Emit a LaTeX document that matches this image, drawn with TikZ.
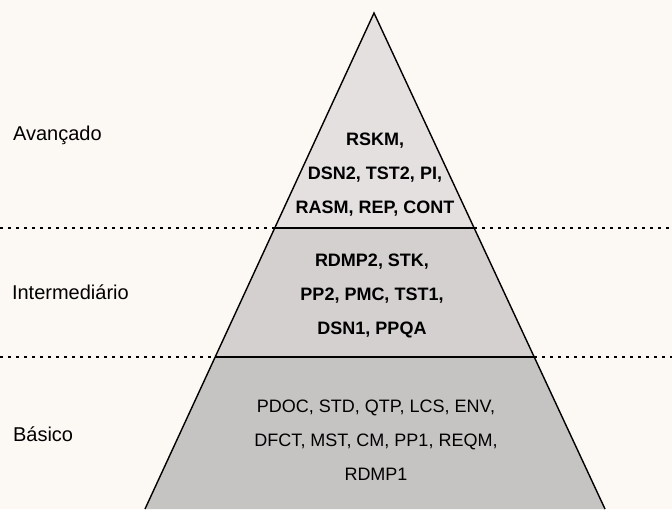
\documentclass[tikz,border=0pt]{standalone}
\usepackage{fontspec}
\setmainfont{Liberation Sans}
\usepackage{xcolor}
\usepackage{tikz}
\usetikzlibrary{positioning}
\definecolor{paper}{HTML}{FCF8F4}
\definecolor{topgray}{HTML}{E4E0E0}
\definecolor{midgray}{HTML}{D3D0CF}
\definecolor{lowgray}{HTML}{C6C4C3}
\tikzset{
    level/.style={align=center, font=\fontsize{9}{17}\selectfont\bfseries},
    levelbase/.style={align=center, font=\fontsize{9}{17}\selectfont},
    tag/.style={anchor=west, font=\fontsize{10}{12}\selectfont},
    sep/.style={line width=0.9pt, dash pattern=on 1.5pt off 2.5pt},
    edge/.style={line width=0.7pt}
}

\begin{document}
\begin{tikzpicture}[x=0.5pt,y=-0.5pt]
\fill[paper] (0,0) rectangle (672,509);
\useasboundingbox (0,0) rectangle (672,509);

% pyramid corners
\coordinate (apex) at (374,13);
\coordinate (al) at (275,228);
\coordinate (ar) at (474,228);
\coordinate (il) at (215,357);
\coordinate (ir) at (534,357);
\coordinate (bl) at (145,509);
\coordinate (br) at (605,509);
\coordinate (wl1) at (0,228);
\coordinate (wr1) at (672,228);
\coordinate (wl2) at (0,357);
\coordinate (wr2) at (672,357);

\fill[topgray] (apex) -- (ar) -- (al) -- cycle;
\fill[midgray] (al) -- (ar) -- (ir) -- (il) -- cycle;
\fill[lowgray] (il) -- (ir) -- (br) -- (bl) -- cycle;

\draw [sep] (wl1) -- (al);
\draw [sep] (ar) -- (wr1);
\draw [sep] (wl2) -- (il);
\draw [sep] (ir) -- (wr2);

\draw [edge] (bl) -- (apex) -- (br);
\draw [edge] (al) -- (ar);
\draw [edge] (il) -- (ir);

\node [level]     (adv)  at (375,175) {RSKM,\\DSN2, TST2, PI,\\RASM, REP, CONT};
\node [level]     (mid)  at (372,296) {RDMP2, STK,\\PP2, PMC, TST1,\\DSN1, PPQA};
\node [levelbase] (base) at (376,440) {PDOC, STD, QTP, LCS, ENV,\\DFCT, MST, CM, PP1, REQM,\\RDMP1};

\node [tag] (tadv)  at (6,135) {Avançado};
\node [tag] (tmid)  at (5,292) {Intermediário};
\node [tag] (tbase) at (6,434) {Básico};

\end{tikzpicture}
\end{document}
